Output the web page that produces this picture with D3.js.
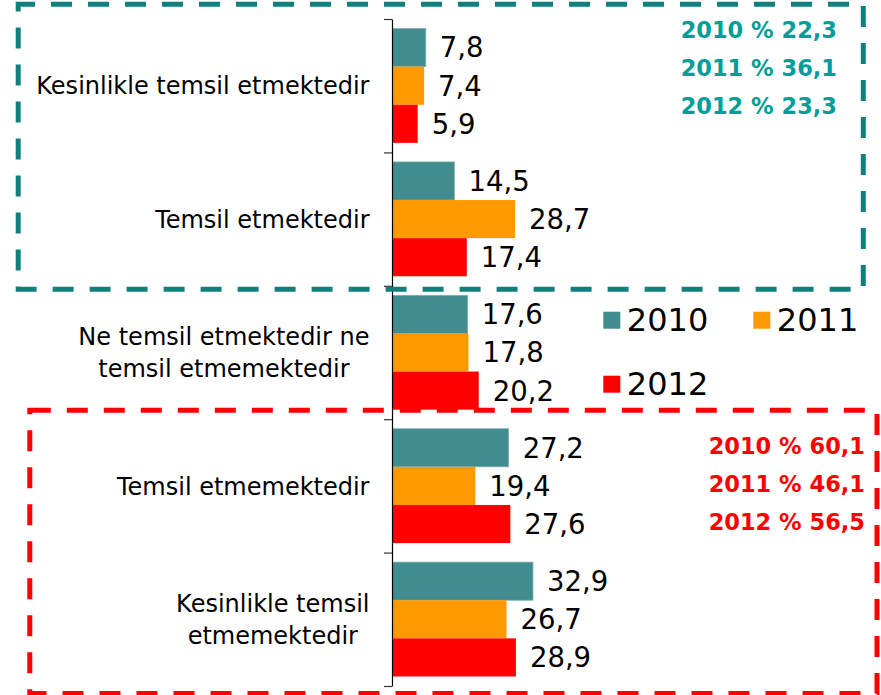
<!DOCTYPE html>
<html>
<head>
<meta charset="utf-8">
<script src="https://cdn.jsdelivr.net/npm/d3@7"></script>
<style>
  html, body { margin: 0; padding: 0; background: #fff; }
  svg { display: block; }
  text { font-family: Verdana, "DejaVu Sans", sans-serif; }
</style>
</head>
<body>
<svg id="chart" width="881" height="695"></svg>
<script>
// ---- data ----
const categories = [
  ["Kesinlikle temsil etmektedir"],
  ["Temsil etmektedir"],
  ["Ne temsil etmektedir ne", "temsil etmemektedir"],
  ["Temsil etmemektedir"],
  ["Kesinlikle temsil", "etmemektedir"]
];
const years = ["2010", "2011", "2012"];
const values2010 = [7.8, 14.5, 17.6, 27.2, 32.9];
const values2011 = [7.4, 28.7, 17.8, 19.4, 26.7];
const values2012 = [5.9, 17.4, 20.2, 27.6, 28.9];
const positiveTotals = [22.3, 36.1, 23.3];   // 2010, 2011, 2012
const negativeTotals = [60.1, 46.1, 56.5];   // 2010, 2011, 2012
const colors = ["#418C8F", "#FF9900", "#FF0000"];

const seriesValues = [values2010, values2011, values2012];
const catKeys = categories.map((c, i) => "c" + i);
const fmt = v => d3.format(".1f")(v).replace(".", ",");

const svg = d3.select("#chart");

// ---- scales ----
const axisX = 392;
const y = d3.scaleBand().domain(catKeys).range([19, 686]).padding(0);
const yInner = d3.scaleBand().domain(years).range([0, y.bandwidth()]).paddingInner(0).paddingOuter(0.25);
const x = d3.scaleLinear().domain([0, 40]).range([axisX + 0.5, axisX + 0.5 + 40 * 4.27]);

// ---- bars ----
const barG = svg.append("g");
catKeys.forEach((k, ci) => {
  const g = barG.append("g").attr("transform", `translate(0,${y(k)})`);
  years.forEach((yr, si) => {
    const v = seriesValues[si][ci];
    g.append("rect")
      .attr("x", x(0))
      .attr("y", yInner(yr))
      .attr("width", x(v) - x(0))
      .attr("height", yInner.bandwidth())
      .attr("fill", colors[si])
      .attr("stroke", si === 0 ? "#7fb0b2" : "none")
      .attr("stroke-width", si === 0 ? 0.8 : 0);
    g.append("text")
      .attr("x", x(v) + 14)
      .attr("y", yInner(yr) + yInner.bandwidth() / 2 + 9.9)
      .attr("font-size", 27.5)
      .attr("fill", "#000")
      .text(fmt(v));
  });
});

// ---- axis (ticks at category boundaries) ----
const yEdge = d3.scaleLinear().domain([0, catKeys.length]).range(y.range());
const axisG = svg.append("g")
  .attr("transform", `translate(${axisX},0)`)
  .call(d3.axisLeft(yEdge).ticks(catKeys.length).tickSize(8).tickSizeOuter(0).tickFormat(""));
axisG.select(".domain").attr("stroke", "#000").attr("stroke-width", 1.2);
axisG.selectAll(".tick line").attr("stroke", "#333").attr("stroke-width", 1.2);

// ---- category labels (block right-aligned, lines centred) ----
const labelRight = 369.5;
const lineGap = 31.7;
categories.forEach((lines, ci) => {
  const cy = y(catKeys[ci]) + y.bandwidth() / 2;
  const g = svg.append("g");
  const texts = lines.map((ln, li) => g.append("text")
    .attr("font-size", 24)
    .attr("fill", "#000")
    .attr("text-anchor", "middle")
    .attr("y", cy + 8.75 + (li - (lines.length - 1) / 2) * lineGap)
    .text(ln));
  const maxW = d3.max(texts, t => t.node().getComputedTextLength());
  texts.forEach(t => t.attr("x", labelRight - maxW / 2));
});

// ---- legend ----
const legendPos = [[603.3, 311.7], [753.3, 311.7], [603.3, 375.7]];
years.forEach((yr, i) => {
  const [lx, ly] = legendPos[i];
  svg.append("rect").attr("x", lx).attr("y", ly).attr("width", 17).attr("height", 17).attr("fill", colors[i]);
  svg.append("text").attr("x", lx + 23.5).attr("y", ly + 19.2).attr("font-size", 32).attr("fill", "#000").text(yr);
});

// ---- dashed boxes ----
svg.append("rect")
  .attr("x", 18.2).attr("y", 4.2).attr("width", 863.3 - 18.2).attr("height", 289.2 - 4.2)
  .attr("fill", "none").attr("stroke", "#0f807e").attr("stroke-width", 5)
  .attr("stroke-dasharray", "21 16").attr("stroke-dashoffset", 4.2);
svg.append("rect")
  .attr("x", 29.8).attr("y", 410.2).attr("width", 877 - 29.8).attr("height", 693.5 - 410.2)
  .attr("fill", "none").attr("stroke", "#FF0000").attr("stroke-width", 5)
  .attr("stroke-dasharray", "21 16");

// ---- group totals ----
years.forEach((yr, i) => {
  svg.append("text")
    .attr("x", 837).attr("y", 38.3 + i * 38)
    .attr("text-anchor", "end").attr("font-size", 22.5).attr("font-weight", "bold")
    .attr("fill", "#009e99")
    .text(`${yr} % ${fmt(positiveTotals[i])}`);
  svg.append("text")
    .attr("x", 865).attr("y", 453.7 + i * 38.3)
    .attr("text-anchor", "end").attr("font-size", 22.5).attr("font-weight", "bold")
    .attr("fill", "#FF0000")
    .text(`${yr} % ${fmt(negativeTotals[i])}`);
});
</script>
</body>
</html>
